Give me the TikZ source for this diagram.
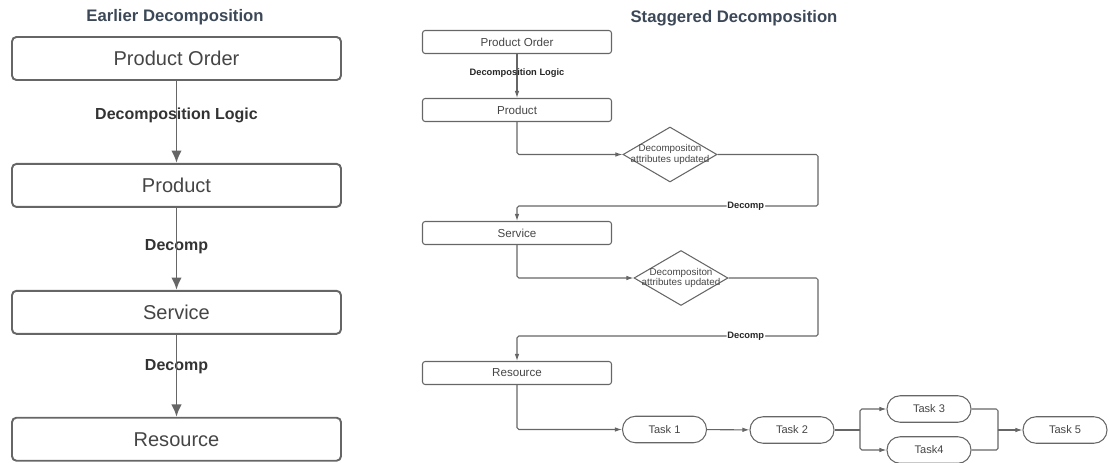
\documentclass[tikz,border=0pt]{standalone}
\usepackage{fontspec}
\setmainfont{Liberation Sans}
\usetikzlibrary{positioning,arrows.meta,shapes.geometric}
\definecolor{linegray}{HTML}{666666}
\definecolor{textgray}{HTML}{454545}
\definecolor{titleblue}{HTML}{3C4857}

\begin{document}
\begin{tikzpicture}[x=0.02cm,y=-0.02cm,
		title/.style={font=\fontsize{9.5}{11}\selectfont\bfseries, text=titleblue},
		bigbox/.style={draw=linegray, line width=1.1pt, rounded corners=2.5pt, minimum width=6.58cm, minimum height=0.86cm, text=textgray, font=\fontsize{11.4}{13}\selectfont},
		smallbox/.style={draw=linegray, line width=0.6pt, rounded corners=1.5pt, minimum width=3.78cm, minimum height=0.46cm, text=textgray, font=\fontsize{6.6}{8}\selectfont},
		check/.style={draw=linegray, line width=0.6pt, diamond, minimum width=1.88cm, minimum height=1.1cm, inner sep=0pt},
		checktext/.style={align=center, text=textgray, font=\fontsize{5.6}{6.2}\selectfont},
		task/.style={draw=linegray, line width=0.6pt, rounded corners=0.26cm, minimum width=1.68cm, minimum height=0.53cm, text=textgray, font=\fontsize{6.3}{8}\selectfont},
		bigarr/.style={draw=linegray, line width=1.1pt, -{Latex[length=7pt,width=6pt]}},
		arr/.style={draw=linegray, line width=0.6pt, rounded corners=1pt, -{Latex[length=4pt,width=2.6pt]}},
		ln/.style={draw=linegray, line width=0.6pt, rounded corners=1pt},
		biglbl/.style={font=\fontsize{9.1}{11}\selectfont\bfseries, text=black!80},
		lbl/.style={font=\fontsize{5.3}{6}\selectfont\bfseries, text=black!85, inner sep=0.5pt},
	]
	\useasboundingbox (0,0) rectangle (1109,463);

	% earlier decomposition
	\node[title] (ttl1) at (175,17) {Earlier Decomposition};
	\node[bigbox] (po) at (176.5,58.5) {Product Order};
	\node[bigbox, below=1.64cm of po] (prod) {Product};
	\node[bigbox, below=1.64cm of prod] (svc) {Service};
	\node[bigbox, below=1.64cm of svc] (res) {Resource};
	\node[biglbl] (l1) at (176.5,115) {Decomposition Logic};
	\node[biglbl] (l2) at (176.5,247) {Decomp};
	\node[biglbl] (l3) at (176.5,367) {Decomp};
	\draw[bigarr] (po) -- (prod);
	\draw[bigarr] (prod) -- (svc);
	\draw[bigarr] (svc) -- (res);

	% staggered decomposition
	\node[title] (ttl2) at (734,18) {Staggered Decomposition};
	\node[smallbox] (po2) at (517,42) {Product Order};
	\node[smallbox] (prod2) at (517,110) {Product};
	\node[smallbox] (svc2) at (517,233) {Service};
	\node[smallbox] (res2) at (517,373) {Resource};
	\node[check] (chk1) at (670,154.5) {};
	\node[checktext] (chk1txt) at (chk1) {Decompositon\\attributes updated};
	\node[check] (chk2) at (681,278) {};
	\node[checktext] (chk2txt) at (chk2) {Decompositon\\attributes updated};
	\coordinate (rt1) at (818,206);
	\coordinate (rt2) at (818,336);

	\draw[arr] (po2) -- node[lbl, pos=0.43] {Decomposition Logic} (prod2);
	\draw[arr] (prod2.south) |- (chk1.west);
	\draw[arr] (chk1.east) -| (rt1) -- node[lbl, fill=white, pos=0.24] {Decomp} (rt1 -| svc2) -- (svc2.north);
	\draw[arr] (svc2.south) |- (chk2.west);
	\draw[arr] (chk2.east) -| (rt2) -- node[lbl, fill=white, pos=0.24] {Decomp} (rt2 -| res2) -- (res2.north);

	% tasks
	\node[task] (t1) at (664.5,429.5) {Task 1};
	\node[task] (t2) at (792,430) {Task 2};
	\node[task] (t3) at (929,409) {Task 3};
	\node[task] (t4) at (929,450) {Task4};
	\node[task] (t5) at (1065,430) {Task 5};
	\coordinate (split) at (860,430);
	\coordinate (join) at (998,430);

	\draw[arr] (res2.south) |- (t1.west);
	\draw[arr] (t1) -- (t2);
	\draw[ln] (t2.east) -- (split);
	\draw[arr] (split) |- (t3.west);
	\draw[arr] (split) |- (t4.west);
	\draw[ln] (t3.east) -| (join);
	\draw[ln] (t4.east) -| (join);
	\draw[arr] (join) -- (t5.west);
\end{tikzpicture}
\end{document}
